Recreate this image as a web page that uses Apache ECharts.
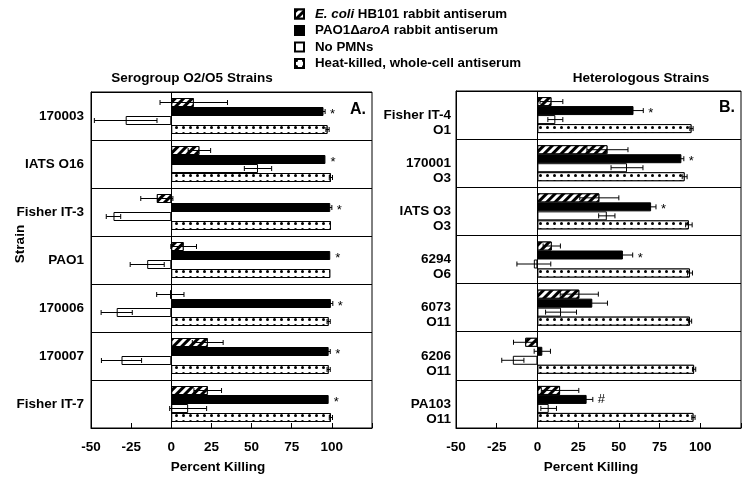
<!DOCTYPE html>
<html>
<head>
<meta charset="utf-8">
<script src="https://cdn.jsdelivr.net/npm/echarts@6/dist/echarts.min.js"></script>
<style>html,body{margin:0;padding:0;background:#fff;}#c{width:748px;height:478px;}</style>
</head>
<body>
<div id="c"></div>
<script>
// ---------- data ----------
var seriesNames = ['E. coli HB101 rabbit antiserum', 'PAO1\u0394aroA rabbit antiserum', 'No PMNs', 'Heat-killed, whole-cell antiserum'];
var xTicks = [-50, -25, 0, 25, 50, 75, 100];

var leftStrains = ['170003', 'IATS O16', 'Fisher IT-3', 'PAO1', '170006', '170007', 'Fisher IT-7'];
var leftEcoli    = [14, 17.5, -9, 7.7, -0.6, 22.7, 22.7];
var leftEcoliErr = [21, 7, 10, 8, 8.5, 9.6, 8.6];
var leftAroA     = [94.8, 96, 99, 99, 99.4, 98, 98];
var leftAroAErr  = [1, 0, 1, 0, 1.2, 1, 0];
var leftNoPMN    = [-28.4, 54, -36, -15, -34, -31, 10.5];
var leftNoPMNErr = [19.5, 8.5, 4.5, 10.6, 9.7, 12.5, 11.5];
var leftHK       = [97.3, 99.4, 99.4, 99, 98, 98, 99.4];
var leftHKErr    = [1, 1, 0, 0, 1, 1, 1];
var leftSig      = ['*', '*', '*', '*', '*', '*', '*'];

var rightStrains = ['Fisher IT-4', '170001', 'IATS O3', '6294', '6073', '6206', 'PA103'];
var rightSero    = ['O1', 'O3', 'O3', 'O6', 'O11', 'O11', 'O11'];
var rightEcoli    = [8.6, 43, 38, 8.8, 25.7, -7.5, 13.9];
var rightEcoliErr = [7, 12.6, 12, 5.3, 11.7, 7.2, 11.5];
var rightAroA     = [59, 88.4, 69.8, 52.5, 33.7, 3, 30.2];
var rightAroAErr  = [6, 1.5, 3, 6, 9.3, 5, 3.8];
var rightNoPMN    = [11, 55, 42.6, -2.2, 14.5, -15.1, 6.9];
var rightNoPMNErr = [4.6, 9.8, 5, 10.4, 9.5, 6.8, 4.8];
var rightHK       = [94.6, 90.4, 93, 93.7, 93.7, 96.2, 95.8];
var rightHKErr    = [1, 1.5, 2, 1.5, 1, 1, 1];
var rightSig      = ['*', '*', '*', '*', '', '', '#'];

// ---------- styles ----------
var FONT = '"Liberation Sans", Arial, sans-serif';
var BAR_W = 9;
var hatchDecal = { symbol: 'rect', symbolSize: 1, color: '#000', backgroundColor: '#fff',
  dashArrayX: [1, 0], dashArrayY: [3, 3], rotation: -Math.PI / 4 };
var dotDecal = { symbol: 'circle', symbolSize: 1, color: '#000', backgroundColor: '#fff',
  dashArrayX: [2.2, 3.6], dashArrayY: [2.2, 2.3] };
var barStyles = [
  { color: '#fff', borderColor: '#000', borderWidth: 1, decal: hatchDecal },
  { color: '#000', borderColor: '#000', borderWidth: 1 },
  { color: '#fff', borderColor: '#000', borderWidth: 1 },
  { color: '#fff', borderColor: '#000', borderWidth: 1, decal: dotDecal }
];

function zip(vals, errs) {
  return vals.map(function (v, i) { return [v, i, errs[i]]; });
}

function errRender(k) {
  return function (params, api) {
    var v = api.value(0), c = api.value(1), e = api.value(2);
    if (!e) return null;
    var mid = api.coord([v, c]);
    var lo = api.coord([v - e, c]);
    var hi = api.coord([v + e, c]);
    var y = mid[1] + (k - 1.5) * BAR_W;
    var cap = 2.5;
    var st = { stroke: '#000', lineWidth: 1 };
    return { type: 'group', children: [
      { type: 'line', shape: { x1: lo[0], y1: y, x2: hi[0], y2: y }, style: st },
      { type: 'line', shape: { x1: lo[0], y1: y - cap, x2: lo[0], y2: y + cap }, style: st },
      { type: 'line', shape: { x1: hi[0], y1: y - cap, x2: hi[0], y2: y + cap }, style: st }
    ]};
  };
}

function sigRender(params, api) {
  var v = api.value(0), c = api.value(1), e = api.value(2), s = api.value(3);
  if (!s) return null;
  var p = api.coord([v + e, c]);
  var y = p[1] - 0.5 * BAR_W + (s === '*' ? 3 : 0);
  return { type: 'text', x: p[0] + 5, y: y, style: { text: s, fill: '#000',
    font: 'normal 13px ' + FONT, textAlign: 'left', textVerticalAlign: 'middle' } };
}

function panelSeries(gi, groups, errs, sig) {
  var out = [];
  for (var k = 0; k < 4; k++) {
    var s = {
      type: 'bar', name: seriesNames[k], xAxisIndex: gi, yAxisIndex: gi,
      barWidth: BAR_W, barGap: '0%', itemStyle: barStyles[k],
      data: groups[k], z: 2
    };
    if (k === 0) {
      s.markLine = { silent: true, symbol: ['none', 'none'], label: { show: false },
        lineStyle: { color: '#000', width: 1, type: 'solid' }, data: [{ xAxis: 0 }] };
    }
    out.push(s);
    out.push({
      type: 'custom', xAxisIndex: gi, yAxisIndex: gi, z: 5, silent: true,
      renderItem: errRender(k), encode: { x: 0, y: 1 },
      data: zip(groups[k], errs[k])
    });
  }
  out.push({
    type: 'custom', xAxisIndex: gi, yAxisIndex: gi, z: 6, silent: true,
    renderItem: sigRender, encode: { x: 0, y: 1 },
    data: groups[1].map(function (v, i) { return [v, i, errs[1][i], sig[i]]; })
  });
  return out;
}

var xAxisBase = function (gi) {
  return {
    type: 'value', gridIndex: gi, min: -50, max: 125, interval: 25,
    axisLine: { show: true, onZero: false, lineStyle: { color: '#000', width: 1 } },
    axisTick: { show: true, inside: true, length: 5, lineStyle: { color: '#000' } },
    splitLine: { show: false },
    axisLabel: { margin: 12, color: '#000', fontFamily: FONT, fontWeight: 'bold', fontSize: 13.5,
      formatter: function (v) { return xTicks.indexOf(v) >= 0 ? String(v) : ''; } }
  };
};

var chart = echarts.init(document.getElementById('c'), null, { renderer: 'canvas' });
var option = {
  animation: false,
  backgroundColor: '#fff',
  legend: {
    orient: 'vertical', left: 289, top: 2, itemWidth: 9, itemHeight: 9, itemGap: 2.5,
    icon: 'rect', data: seriesNames,
    textStyle: { color: '#000', fontFamily: FONT, fontWeight: 'bold', fontSize: 13.3, lineHeight: 14,
      padding: [0, 0, 0, 6],
      rich: { i: { fontFamily: FONT, fontWeight: 'bold', fontStyle: 'italic', fontSize: 13.3, color: '#000' } } },
    formatter: function (n) {
      if (n === seriesNames[0]) return '{i|E. coli} HB101 rabbit antiserum';
      if (n === seriesNames[1]) return 'PAO1\u0394{i|aroA} rabbit antiserum';
      return n;
    }
  },
  grid: [
    { left: 91, top: 92, width: 281, height: 336, show: true, borderColor: '#000', borderWidth: 1 },
    { left: 456, top: 91, width: 285, height: 337, show: true, borderColor: '#000', borderWidth: 1 }
  ],
  xAxis: [xAxisBase(0), xAxisBase(1)],
  yAxis: [
    { type: 'category', gridIndex: 0, inverse: true, data: leftStrains,
      axisLine: { show: true, onZero: false, lineStyle: { color: '#000' } },
      axisTick: { show: false },
      splitLine: { show: true, lineStyle: { color: '#000', width: 1 } },
      axisLabel: { margin: 7, color: '#000', fontFamily: FONT, fontWeight: 'bold', fontSize: 13.5 } },
    { type: 'category', gridIndex: 1, inverse: true, data: rightStrains,
      axisLine: { show: true, onZero: false, lineStyle: { color: '#000' } },
      axisTick: { show: false },
      splitLine: { show: true, lineStyle: { color: '#000', width: 1 } },
      axisLabel: { margin: 5, color: '#000', fontFamily: FONT, fontWeight: 'bold', fontSize: 13.5,
        lineHeight: 15, align: 'right', verticalAlign: 'middle',
        formatter: function (v, i) { return ' \n' + v + '\n' + rightSero[i]; } } }
  ],
  series: [].concat(
    panelSeries(0, [leftEcoli, leftAroA, leftNoPMN, leftHK],
      [leftEcoliErr, leftAroAErr, leftNoPMNErr, leftHKErr], leftSig),
    panelSeries(1, [rightEcoli, rightAroA, rightNoPMN, rightHK],
      [rightEcoliErr, rightAroAErr, rightNoPMNErr, rightHKErr], rightSig)
  ),
  graphic: [
    { type: 'text', x: 192, y: 78, style: { text: 'Serogroup O2/O5 Strains', fill: '#000',
      font: 'bold 13.5px ' + FONT, textAlign: 'center', textVerticalAlign: 'middle' } },
    { type: 'text', x: 641, y: 78, style: { text: 'Heterologous Strains', fill: '#000',
      font: 'bold 13.5px ' + FONT, textAlign: 'center', textVerticalAlign: 'middle' } },
    { type: 'text', x: 358, y: 110, style: { text: 'A.', fill: '#000',
      font: 'bold 16px ' + FONT, textAlign: 'center', textVerticalAlign: 'middle' } },
    { type: 'text', x: 727, y: 108, style: { text: 'B.', fill: '#000',
      font: 'bold 16px ' + FONT, textAlign: 'center', textVerticalAlign: 'middle' } },
    { type: 'text', x: 218, y: 467, style: { text: 'Percent Killing', fill: '#000',
      font: 'bold 13.5px ' + FONT, textAlign: 'center', textVerticalAlign: 'middle' } },
    { type: 'text', x: 591, y: 467, style: { text: 'Percent Killing', fill: '#000',
      font: 'bold 13.5px ' + FONT, textAlign: 'center', textVerticalAlign: 'middle' } },
    { type: 'text', x: 20, y: 244, rotation: Math.PI / 2, style: { text: 'Strain', fill: '#000',
      font: 'bold 13.5px ' + FONT, textAlign: 'center', textVerticalAlign: 'middle' } }
  ]
};
chart.setOption(option);
</script>
</body>
</html>
